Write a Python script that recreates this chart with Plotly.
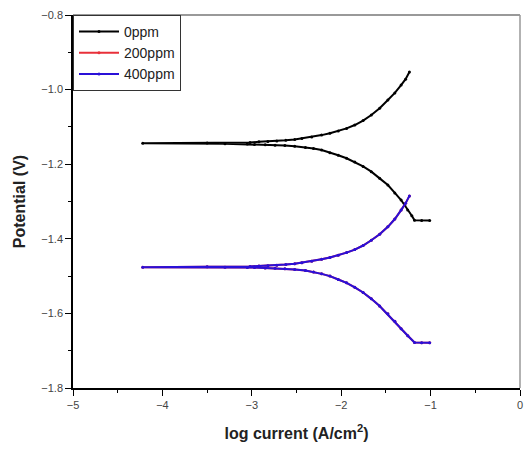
import plotly.graph_objects as go

# 0 ppm : sweep from cathodic end through Ecorr to anodic end
x_0ppm = [-1.01, -1.10, -1.18, -1.21, -1.256, -1.29, -1.33, -1.40, -1.478, -1.57, -1.663, -1.755, -1.848,
          -1.94, -2.033, -2.126, -2.219, -2.31, -2.40, -2.52, -2.63, -2.74, -2.85,
          -2.97, -3.05, -3.30, -4.22, -3.50, -3.02, -2.92, -2.82, -2.72, -2.62, -2.52, -2.44, -2.33, -2.219,
          -2.126, -2.033, -1.94, -1.848, -1.755, -1.663, -1.57, -1.478, -1.40, -1.33, -1.28, -1.237]
y_0ppm = [-1.351, -1.351, -1.350, -1.338, -1.323, -1.310, -1.296, -1.277, -1.256, -1.238, -1.220, -1.206,
          -1.194, -1.184, -1.176, -1.169, -1.162, -1.158, -1.155, -1.152, -1.150, -1.149,
          -1.148, -1.147, -1.146, -1.145, -1.144, -1.143, -1.142, -1.140, -1.139, -1.138, -1.136, -1.134,
          -1.131, -1.127, -1.122, -1.117, -1.111, -1.104, -1.095, -1.083, -1.068, -1.050, -1.028, -1.009,
          -0.988, -0.972, -0.953]

# 200 ppm (drawn first, almost hidden under 400 ppm)
x_200ppm = [-1.01, -1.10, -1.18, -1.255, -1.33, -1.40, -1.478, -1.57, -1.663, -1.755, -1.848, -1.94, -2.033,
            -2.126, -2.219, -2.31, -2.40, -2.52, -2.63, -2.74, -2.85,
            -2.97, -3.05, -3.30, -4.22, -3.50, -3.02, -2.92, -2.82, -2.72, -2.62, -2.52, -2.44, -2.33, -2.219,
            -2.126, -2.033, -1.94, -1.848, -1.755, -1.663, -1.57, -1.478, -1.40, -1.33, -1.28, -1.237]
y_200ppm = [-1.679, -1.679, -1.678, -1.660, -1.641, -1.621, -1.601, -1.580, -1.561, -1.544, -1.530, -1.518,
            -1.509, -1.500, -1.494, -1.489, -1.485, -1.482, -1.480, -1.479,
            -1.478, -1.477, -1.477, -1.476, -1.476, -1.475, -1.474, -1.473, -1.472, -1.471, -1.469, -1.467,
            -1.464, -1.460, -1.455, -1.450, -1.444, -1.437, -1.429, -1.418, -1.404, -1.388, -1.368, -1.347,
            -1.323, -1.305, -1.285]

# 400 ppm
x_400ppm = list(x_200ppm)
y_400ppm = list(y_200ppm)

x_range = [-5, 0]
y_range = [-1.8, -0.8]

series = [("0ppm", x_0ppm, y_0ppm, "black"),
          ("200ppm", x_200ppm, y_200ppm, "#e8303a"),
          ("400ppm", x_400ppm, y_400ppm, "#2a10d8")]

fig = go.Figure()
for name, xs, ys, col in series:
    fig.add_trace(go.Scatter(x=xs, y=ys, name=name, mode="lines+markers",
                             line=dict(color=col, width=2),
                             marker=dict(color=col, size=3)))

font = "Liberation Sans, Arial, sans-serif"
fig.update_layout(
    width=528, height=452,
    margin=dict(l=73, r=5, t=15, b=64),
    paper_bgcolor="white", plot_bgcolor="white",
    font=dict(family=font, color="#222"),
    showlegend=True,
    legend=dict(x=0, y=1, xanchor="left", yanchor="top", bgcolor="white",
                bordercolor="#333", borderwidth=1, font=dict(size=14, family=font, color="#222"),
                itemwidth=40, tracegroupgap=0),
    xaxis=dict(range=x_range, tick0=0, dtick=1, tickformat="d",
               showgrid=False, zeroline=False, showline=True, linecolor="black", linewidth=1.5,
               ticks="outside", ticklen=6, tickwidth=1.3, tickcolor="black",
               tickfont=dict(size=11, color="#444"),
               minor=dict(dtick=0.5, ticks="outside", ticklen=3, tickwidth=1.2, tickcolor="black"),
               title=dict(text="<b>log current (A/cm<sup>2</sup>)</b>", font=dict(size=16, color="#222"),
                          standoff=18)),
    yaxis=dict(range=y_range, tick0=-0.8, dtick=0.2, tickformat=".1f",
               showgrid=False, zeroline=False, showline=True, linecolor="black", linewidth=1.5,
               ticks="outside", ticklen=6, tickwidth=1.3, tickcolor="black",
               tickfont=dict(size=11, color="#444"),
               minor=dict(dtick=0.1, ticks="outside", ticklen=3, tickwidth=1.2, tickcolor="black"),
               title=dict(text="<b>Potential (V)</b>", font=dict(size=16, color="#222"), standoff=12)),
    shapes=[dict(type="line", xref="paper", yref="paper", x0=0, x1=1, y0=1, y1=1,
                 line=dict(color="#777", width=1.5)),
            dict(type="line", xref="paper", yref="paper", x0=1, x1=1, y0=0, y1=1,
                 line=dict(color="#999", width=1.5))],
)

fig.write_html("out.html")
